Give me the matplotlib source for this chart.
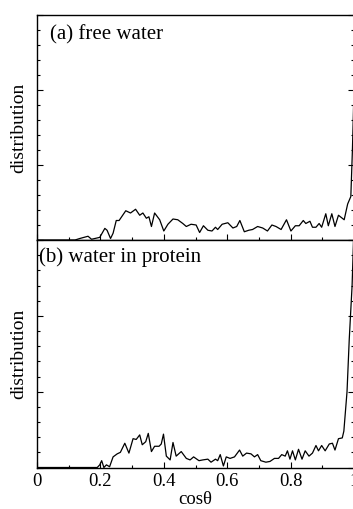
import matplotlib
matplotlib.use("Agg")
import matplotlib.pyplot as plt
from matplotlib.ticker import MultipleLocator, NullFormatter

plt.rcParams['font.family'] = ['Liberation Serif', 'DejaVu Serif']

# Panel (a): free water
xa = [0.0, 0.12, 0.135, 0.161, 0.172, 0.198, 0.214, 0.221, 0.232, 0.240, 0.250, 0.259,
      0.280, 0.295, 0.311, 0.324, 0.334, 0.345, 0.353, 0.361, 0.371, 0.387, 0.400,
      0.413, 0.429, 0.444, 0.460, 0.471, 0.486, 0.502, 0.513, 0.525, 0.539, 0.552,
      0.563, 0.570, 0.584, 0.602, 0.618, 0.630, 0.640, 0.654, 0.668, 0.680, 0.696,
      0.712, 0.727, 0.741, 0.754, 0.770, 0.787, 0.801, 0.815, 0.827, 0.840, 0.848,
      0.861, 0.869, 0.880, 0.890, 0.898, 0.911, 0.919, 0.930, 0.940, 0.951, 0.969,
      0.980, 0.990, 0.995, 1.0]
ya = [0.0, 0.0, 0.02, 0.05, 0.01, 0.035, 0.155, 0.13, 0.02, 0.09, 0.26, 0.26,
      0.39, 0.36, 0.41, 0.33, 0.36, 0.29, 0.31, 0.18, 0.36, 0.27, 0.12,
      0.21, 0.28, 0.27, 0.22, 0.18, 0.21, 0.20, 0.10, 0.19, 0.13, 0.12,
      0.17, 0.14, 0.21, 0.23, 0.16, 0.18, 0.26, 0.11, 0.13, 0.14, 0.18,
      0.16, 0.12, 0.20, 0.18, 0.14, 0.27, 0.12, 0.19, 0.19, 0.26, 0.22,
      0.25, 0.17, 0.17, 0.22, 0.17, 0.35, 0.19, 0.35, 0.18, 0.33, 0.27,
      0.48, 0.58, 1.2, 2.0]

# Panel (b): water in protein
xb = [0.0, 0.19, 0.198, 0.204, 0.211, 0.219, 0.229, 0.240, 0.253, 0.263, 0.277, 0.290,
      0.303, 0.313, 0.324, 0.332, 0.343, 0.351, 0.361, 0.371, 0.385, 0.392, 0.399,
      0.408, 0.420, 0.429, 0.439, 0.455, 0.471, 0.483, 0.494, 0.511, 0.523, 0.539,
      0.549, 0.563, 0.570, 0.578, 0.588, 0.597, 0.609, 0.623, 0.639, 0.649, 0.661,
      0.675, 0.686, 0.696, 0.706, 0.722, 0.735, 0.749, 0.762, 0.772, 0.783, 0.790,
      0.798, 0.806, 0.815, 0.825, 0.836, 0.846, 0.858, 0.869, 0.880, 0.888, 0.898,
      0.909, 0.922, 0.932, 0.940, 0.951, 0.963, 0.968, 0.978, 0.985, 0.994, 1.0]
yb = [0.0, 0.0, 0.035, 0.09, 0.0, 0.035, 0.01, 0.14, 0.18, 0.20, 0.32, 0.19,
      0.38, 0.37, 0.43, 0.30, 0.34, 0.45, 0.21, 0.28, 0.28, 0.31, 0.44,
      0.15, 0.10, 0.33, 0.15, 0.21, 0.12, 0.10, 0.14, 0.09, 0.10, 0.11,
      0.07, 0.11, 0.09, 0.17, 0.02, 0.14, 0.12, 0.14, 0.23, 0.15, 0.19,
      0.18, 0.14, 0.17, 0.09, 0.07, 0.08, 0.12, 0.12, 0.17, 0.15, 0.22,
      0.11, 0.22, 0.10, 0.24, 0.11, 0.22, 0.15, 0.19, 0.29, 0.22, 0.29,
      0.22, 0.31, 0.32, 0.23, 0.38, 0.39, 0.48, 1.0, 1.69, 2.4, 3.2]

xticks = [0, 0.2, 0.4, 0.6, 0.8, 1]
xticklabels = ['0', '0.2', '0.4', '0.6', '0.8', '1']

W, H = 353, 509
fig = plt.figure(figsize=(W / 100, H / 100), dpi=100)
left = 37 / W
width = 317 / W
ax1 = fig.add_axes([left, 1 - 240 / H, width, 225 / H])
ax2 = fig.add_axes([left, 1 - 467.5 / H, width, 227.5 / H])

for ax, xs, ys in ((ax1, xa, ya), (ax2, xb, yb)):
    ax.plot(xs, ys, color='black', lw=0.9)
    ax.set_xlim(0, 1)
    ax.set_ylim(0, 3)
    ax.xaxis.set_major_locator(MultipleLocator(0.2))
    ax.xaxis.set_minor_locator(MultipleLocator(0.1))
    ax.yaxis.set_major_locator(MultipleLocator(1))
    ax.yaxis.set_minor_locator(MultipleLocator(0.2))
    ax.yaxis.set_major_formatter(NullFormatter())
    ax.tick_params(which='both', direction='in', right=True, top=False, width=0.8)
    ax.tick_params(which='major', length=4)
    ax.tick_params(which='minor', length=2)
    for s in ax.spines.values():
        s.set_linewidth(1.0)
    ax.set_ylabel('distribution', fontsize=14)
    ax.yaxis.set_label_coords(-0.03, 0.5)

ax1.xaxis.set_major_formatter(NullFormatter())
ax2.set_xticks(xticks)
ax2.set_xticklabels(xticklabels, fontsize=13.5)
ax2.tick_params(axis='x', pad=4)
ax2.set_xlabel('cosθ', fontsize=13.5, labelpad=1)

ax1.text(0.04, 0.91, '(a) free water', transform=ax1.transAxes, fontsize=15,
         ha='left', va='center')
ax2.text(0.005, 0.925, '(b) water in protein', transform=ax2.transAxes, fontsize=15,
         ha='left', va='center')

fig.savefig('out.png', dpi=100)
